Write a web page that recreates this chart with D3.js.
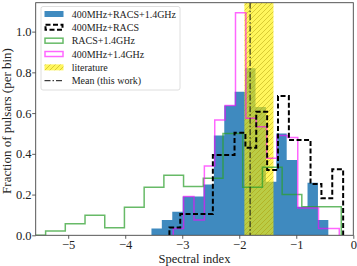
<!DOCTYPE html>
<html>
<head>
<meta charset="utf-8">
<script src="https://cdn.jsdelivr.net/npm/d3@7"></script>
<style>
body { margin: 0; background: #fff; }
svg text { font-family: "Liberation Serif", "Times New Roman", serif; fill: #222; }
</style>
</head>
<body>
<div id="chart"></div>
<script>
// spectral index histograms (density per bin)
const allEdges = [-3.540, -3.358, -3.175, -2.993, -2.810, -2.628, -2.445, -2.263, -2.080,
    -1.898, -1.715, -1.533, -1.350, -1.168, -0.985, -0.803, -0.620, -0.438];
const allFrac = [0.034, 0.075, 0.116, 0.19, 0.19, 0.25, 0.49, 0.637, 0.705,
    0.82, 0.63, 0.263, 0.50, 0.37, 0.14, 0.258, 0.075];

const racsEdges = [-3.225, -3.035, -2.844, -2.654, -2.463, -2.273, -2.083, -1.892, -1.702,
    -1.511, -1.321, -1.130, -0.940, -0.750, -0.559, -0.369, -0.178];
const racsFrac = [0.038, 0.105, 0.105, 0.105, 0.394, 0.394, 0.504, 0.43,
    0.607, 0.32, 0.684, 0.468, 0.468, 0.252, 0.182, 0.324];

const racsGhzEdges = [-5.742, -5.396, -5.051, -4.705, -4.359, -4.014, -3.668, -3.322, -2.977,
    -2.631, -2.285, -1.940, -1.594, -1.248, -0.903, -0.557, -0.211];
const racsGhzFrac = [0, 0.021, 0.057, 0.098, 0.037, 0.138, 0.236, 0.295,
    0.24, 0.28, 0.50, 0.236, 0.334, 0.20, 0.14, 0.14];

const mhzGhzEdges = [-3.158, -2.976, -2.794, -2.612, -2.430, -2.248, -2.066, -1.884, -1.702,
    -1.520, -1.338, -1.156, -0.974, -0.792, -0.610, -0.428, -0.246];
const mhzGhzFrac = [0.034, 0.19, 0.075, 0.34, 0.566, 0.637, 1.093, 0.575,
    0.533, 0.378, 0.49, 0.48, 0.134, 0.134, 0.034, 0.034];

const literature = [-1.91, -1.40];
const meanIndex = -1.81;

const xTicks = [-5, -4, -3, -2, -1, 0];
const yTicks = [0, 0.2, 0.4, 0.6, 0.8, 1.0];
const legendLabels = ["400MHz+RACS+1.4GHz", "400MHz+RACS", "RACS+1.4GHz",
    "400MHz+1.4GHz", "literature", "Mean (this work)"];

const width = 357, height = 266;
const marge = {top: 2.7, right: 3.7, bottom: 30.7, left: 35.7};

const svg = d3.select("#chart").append("svg")
    .attr("width", width).attr("height", height);

const x = d3.scaleLinear().domain([-5.57, 0]).range([marge.left, width - marge.right]);
const y = d3.scaleLinear().domain([0, 1.142]).range([height - marge.bottom, marge.top]);

const defs = svg.append("defs");
defs.append("clipPath").attr("id", "plot-clip").append("rect")
    .attr("x", marge.left).attr("y", marge.top)
    .attr("width", width - marge.left - marge.right)
    .attr("height", height - marge.top - marge.bottom);

const hatch = defs.append("pattern").attr("id", "hatch")
    .attr("patternUnits", "userSpaceOnUse").attr("width", 5).attr("height", 5);
hatch.append("rect").attr("width", 5).attr("height", 5).attr("fill", "#fff000").attr("fill-opacity", 0.64);
hatch.append("path").attr("d", "M-1,1 l2,-2 M0,5 l5,-5 M4,6 l2,-2")
    .attr("stroke", "#a89200").attr("stroke-width", 0.8).attr("stroke-opacity", 0.55);

// step outline: (e0,0) up, across each bin, down at the end
function stepPoints(edges, vals){
    let pts = [[edges[0], 0]];
    vals.forEach((v, i) => {
        pts.push([edges[i], v]);
        pts.push([edges[i + 1], v]);
    });
    pts.push([edges[edges.length - 1], 0]);
    return pts;
}

const line = d3.line().x(d => x(d[0])).y(d => y(d[1]));

const plot = svg.append("g").attr("clip-path", "url(#plot-clip)");

plot.append("path")
    .attr("d", line(stepPoints(allEdges, allFrac)) + "Z")
    .attr("fill", "#1f77b4").attr("fill-opacity", 0.86).attr("stroke", "none");

plot.append("rect")
    .attr("x", x(literature[0])).attr("y", marge.top)
    .attr("width", x(literature[1]) - x(literature[0]))
    .attr("height", y(0) - marge.top)
    .attr("fill", "url(#hatch)");

plot.append("path")
    .attr("d", line(stepPoints(racsGhzEdges, racsGhzFrac)))
    .attr("fill", "none").attr("stroke", "#2ca02c").attr("stroke-opacity", 0.72)
    .attr("stroke-width", 1.5);

plot.append("path")
    .attr("d", line(stepPoints(mhzGhzEdges, mhzGhzFrac)))
    .attr("fill", "none").attr("stroke", "#ff00ff").attr("stroke-opacity", 0.6)
    .attr("stroke-width", 1.5);

plot.append("path")
    .attr("d", line(stepPoints(racsEdges, racsFrac)))
    .attr("fill", "none").attr("stroke", "#000").attr("stroke-width", 2)
    .attr("stroke-dasharray", "5,2.5");

plot.append("line")
    .attr("x1", x(meanIndex)).attr("x2", x(meanIndex))
    .attr("y1", marge.top).attr("y2", y(0))
    .attr("stroke", "#111").attr("stroke-width", 1)
    .attr("stroke-dasharray", "6,2,1.5,2");

// axes
const xAxis = svg.append("g")
    .attr("transform", `translate(0, ${height - marge.bottom})`)
    .call(d3.axisBottom(x).tickValues(xTicks).tickSize(3.5).tickPadding(1.5).tickFormat(d3.format("d")));
const yAxis = svg.append("g")
    .attr("transform", `translate(${marge.left}, 0)`)
    .call(d3.axisLeft(y).tickValues(yTicks).tickSize(3.5).tickPadding(0.6).tickFormat(d3.format(".1f")));

[xAxis, yAxis].forEach(a => {
    a.select(".domain").remove();
    a.selectAll(".tick line").attr("stroke", "#333").attr("stroke-width", 0.8);
    a.selectAll(".tick text").attr("font-size", 12.5).attr("fill", "#222")
        .style("font-family", '"Liberation Serif", serif');
});

svg.append("rect")
    .attr("x", marge.left).attr("y", marge.top)
    .attr("width", width - marge.left - marge.right)
    .attr("height", height - marge.top - marge.bottom)
    .attr("fill", "none").attr("stroke", "#444").attr("stroke-width", 0.9);

svg.append("text")
    .attr("x", (marge.left + width - marge.right) / 2).attr("y", 263)
    .attr("text-anchor", "middle").attr("font-size", 12.5)
    .text("Spectral index");

svg.append("text")
    .attr("transform", "translate(10.5, 121) rotate(-90)")
    .attr("text-anchor", "middle").attr("font-size", 13)
    .text("Fraction of pulsars (per bin)");

// legend
const legend = svg.append("g");
legend.append("rect")
    .attr("x", 41).attr("y", 6.5).attr("width", 139).attr("height", 83.5)
    .attr("rx", 2).attr("fill", "#fff").attr("fill-opacity", 0.85)
    .attr("stroke", "#d6d6d6").attr("stroke-width", 0.8);

const rowY = d3.scaleLinear().domain([0, legendLabels.length - 1]).range([14, 80.7]);
const hx = 44.5, hw = 19, hh = 6;

legendLabels.forEach((lab, i) => {
    const cy = rowY(i);
    const g = legend.append("g");
    if(i === 0){
        g.append("rect").attr("x", hx).attr("y", cy - hh / 2).attr("width", hw).attr("height", hh)
            .attr("fill", "#1f77b4").attr("fill-opacity", 0.86);
    } else if(i === 1){
        g.append("rect").attr("x", hx + 1).attr("y", cy - hh / 2 + 0.5).attr("width", hw - 2).attr("height", hh - 1)
            .attr("fill", "none").attr("stroke", "#000").attr("stroke-width", 2).attr("stroke-dasharray", "5,2.5");
    } else if(i === 2){
        g.append("rect").attr("x", hx + 0.5).attr("y", cy - hh / 2 + 0.5).attr("width", hw - 1).attr("height", hh - 1)
            .attr("fill", "none").attr("stroke", "#2ca02c").attr("stroke-opacity", 0.72).attr("stroke-width", 1.5);
    } else if(i === 3){
        g.append("rect").attr("x", hx + 0.5).attr("y", cy - hh / 2 + 0.5).attr("width", hw - 1).attr("height", hh - 1)
            .attr("fill", "none").attr("stroke", "#ff00ff").attr("stroke-opacity", 0.6).attr("stroke-width", 1.5);
    } else if(i === 4){
        g.append("rect").attr("x", hx).attr("y", cy - hh / 2).attr("width", hw).attr("height", hh)
            .attr("fill", "url(#hatch)");
    } else {
        g.append("line").attr("x1", hx).attr("x2", hx + hw).attr("y1", cy).attr("y2", cy)
            .attr("stroke", "#111").attr("stroke-width", 1).attr("stroke-dasharray", "6,2,1.5,2");
    }
    g.append("text").attr("x", 71.7).attr("y", cy + 3.5).attr("font-size", 10).text(lab);
});
</script>
</body>
</html>
